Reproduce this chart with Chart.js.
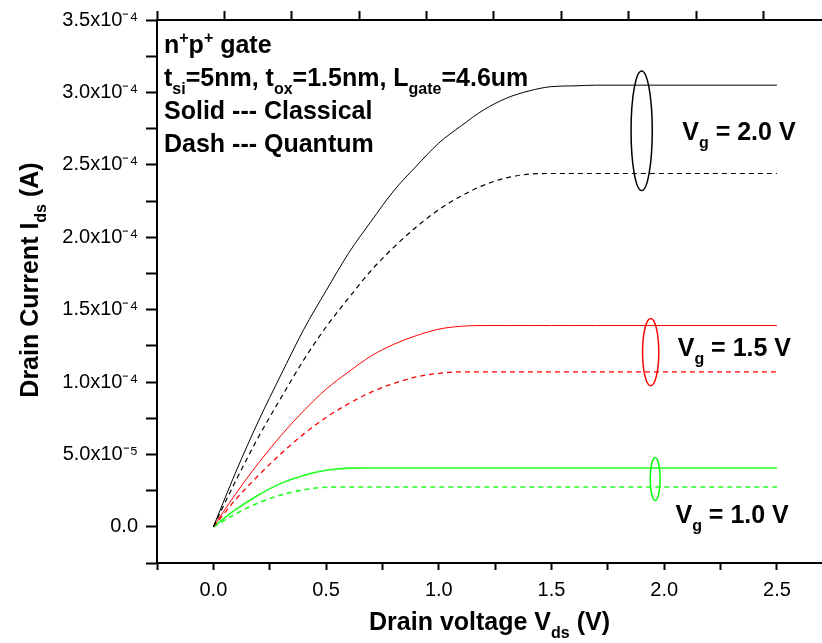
<!DOCTYPE html>
<html>
<head>
<meta charset="utf-8">
<script src="https://cdn.jsdelivr.net/npm/chart.js@4.4.0/dist/chart.umd.min.js"></script>
<style>
    html, body { margin: 0; padding: 0; background: #fff; }
    #wrap { width: 822px; height: 643px; }
</style>
</head>
<body>
<div id="wrap"><canvas id="ivChart" width="822" height="643"></canvas></div>
<script>
// Drain voltage sample points (V)
const vds = [0, 0.1, 0.2, 0.3, 0.4, 0.5, 0.6, 0.7, 0.8, 0.9, 1.0, 1.1, 1.2, 1.3, 1.4, 1.5, 1.6, 1.7, 2.5];

// Drain current, in units of 1e-4 A
const idsClassical20 = [0, 0.38, 0.73, 1.05, 1.36, 1.63, 1.89, 2.11, 2.32, 2.49, 2.65, 2.77, 2.88, 2.96, 3.01, 3.04, 3.045, 3.05, 3.05];
const idsQuantum20   = [0, 0.32, 0.62, 0.89, 1.15, 1.38, 1.58, 1.77, 1.93, 2.07, 2.19, 2.285, 2.36, 2.41, 2.435, 2.44, 2.44, 2.44, 2.44];
const idsClassical15 = [0, 0.23, 0.44, 0.63, 0.80, 0.95, 1.07, 1.18, 1.26, 1.32, 1.365, 1.385, 1.39, 1.39, 1.39, 1.39, 1.39, 1.39, 1.39];
const idsQuantum15   = [0, 0.19, 0.355, 0.505, 0.64, 0.755, 0.85, 0.93, 0.99, 1.035, 1.06, 1.07, 1.07, 1.07, 1.07, 1.07, 1.07, 1.07, 1.07];
const idsClassical10 = [0, 0.12, 0.22, 0.30, 0.355, 0.39, 0.405, 0.406, 0.406, 0.406, 0.406, 0.406, 0.406, 0.406, 0.406, 0.406, 0.406, 0.406, 0.406];
const idsQuantum10   = [0, 0.09, 0.165, 0.22, 0.255, 0.273, 0.275, 0.275, 0.275, 0.275, 0.275, 0.275, 0.275, 0.275, 0.275, 0.275, 0.275, 0.275, 0.275];

// Axis ticks
const xTickValues = [-0.25, 0, 0.25, 0.5, 0.75, 1.0, 1.25, 1.5, 1.75, 2.0, 2.25, 2.5];
const yTickValues = [-0.25, 0, 0.25, 0.5, 0.75, 1.0, 1.25, 1.5, 1.75, 2.0, 2.25, 2.5, 2.75, 3.0, 3.25, 3.5];
const topTickValues = [0, 1, 2, 3, 4, 5, 6, 7, 8, 9];

// Gate voltage groups: label, colour, ellipse centre / half sizes (data units), label anchor
const gateLabels = ['2.0', '1.5', '1.0'];
const gateColors = ['#000000', '#ff0000', '#00ff00'];
const ellipseCenters = [[1.90, 2.735], [1.94, 1.206], [1.96, 0.33]];
const ellipseRadii = [[0.047, 0.413], [0.036, 0.232], [0.022, 0.148]];
const labelAnchors = [[2.08, 2.67], [2.06, 1.18], [2.05, 0.025]];

const FONT = '"Liberation Sans", Arial, Helvetica, sans-serif';

function makeSet(label, values, color, dashed, width) {
    return {
        label: label,
        data: vds.map((v, i) => ({ x: v, y: values[i] })),
        borderColor: color,
        borderWidth: width,
        borderDash: dashed ? [5, 4] : [],
        pointRadius: 0,
        fill: false,
        cubicInterpolationMode: 'monotone'
    };
}

function yLabel(v) {
    if (v < 0 || Math.abs(v * 2 - Math.round(v * 2)) > 1e-9) return '';
    if (v === 0) return '0.0';
    if (Math.abs(v - 0.5) < 1e-9) return '5.0x10\u207B\u2075';
    return v.toFixed(1) + 'x10\u207B\u2074';
}

// text with sub/superscript pieces
function segFont(mode, size) {
    const s = mode ? Math.round(size * 0.62) : size;
    return 'bold ' + s + 'px ' + FONT;
}
function richWidth(ctx, segs, size) {
    let w = 0;
    segs.forEach(([t, m]) => { ctx.font = segFont(m, size); w += ctx.measureText(t).width; });
    return w;
}
function drawRich(ctx, x, y, segs, size, center) {
    let cx = center ? x - richWidth(ctx, segs, size) / 2 : x;
    ctx.textAlign = 'left';
    ctx.textBaseline = 'alphabetic';
    segs.forEach(([t, m]) => {
        ctx.font = segFont(m, size);
        const dy = m === 'sub' ? size * 0.32 : (m === 'sup' ? -size * 0.42 : 0);
        ctx.fillText(t, cx, y + dy);
        cx += ctx.measureText(t).width;
    });
}

const annotations = {
    id: 'annotations',
    afterDraw(chart) {
        const ctx = chart.ctx;
        const xs = chart.scales.x, ys = chart.scales.y;
        ctx.save();
        ctx.fillStyle = '#000';

        // info block
        const left = chart.chartArea.left + 7;
        drawRich(ctx, left, 53, [['n', ''], ['+', 'sup'], ['p', ''], ['+', 'sup'], [' gate', '']], 25);
        drawRich(ctx, left, 86, [['t', ''], ['si', 'sub'], ['=5nm, t', ''], ['ox', 'sub'], ['=1.5nm, L', ''], ['gate', 'sub'], ['=4.6um', '']], 25);
        drawRich(ctx, left, 119, [['Solid --- Classical', '']], 25);
        drawRich(ctx, left, 152, [['Dash --- Quantum', '']], 25);

        // ellipses and gate labels
        gateLabels.forEach((g, i) => {
            const cx = xs.getPixelForValue(ellipseCenters[i][0]);
            const cy = ys.getPixelForValue(ellipseCenters[i][1]);
            const rx = xs.getPixelForValue(ellipseCenters[i][0] + ellipseRadii[i][0]) - cx;
            const ry = cy - ys.getPixelForValue(ellipseCenters[i][1] + ellipseRadii[i][1]);
            ctx.beginPath();
            ctx.ellipse(cx, cy, rx, ry, 0, 0, Math.PI * 2);
            ctx.strokeStyle = gateColors[i];
            ctx.lineWidth = 1.5;
            ctx.stroke();

            const lx = xs.getPixelForValue(labelAnchors[i][0]);
            const ly = ys.getPixelForValue(labelAnchors[i][1]);
            drawRich(ctx, lx, ly, [['V', ''], ['g', 'sub'], [' = ' + g + ' V', '']], 25);
        });

        // axis titles
        const area = chart.chartArea;
        drawRich(ctx, (area.left + area.right) / 2, 630, [['Drain voltage V', ''], ['ds', 'sub'], [' (V)', '']], 25, true);
        ctx.translate(38, 280);
        ctx.rotate(-Math.PI / 2);
        drawRich(ctx, 0, 0, [['Drain Current I', ''], ['ds', 'sub'], [' (A)', '']], 25, true);
        ctx.restore();
    }
};

const tickFont = { family: FONT, size: 20 };

new Chart(document.getElementById('ivChart'), {
    type: 'line',
    data: {
        datasets: [
            makeSet('Classical 2.0', idsClassical20, '#000000', false, 1),
            makeSet('Quantum 2.0', idsQuantum20, '#000000', true, 1.2),
            makeSet('Classical 1.5', idsClassical15, '#ff0000', false, 1),
            makeSet('Quantum 1.5', idsQuantum15, '#ff0000', true, 1.3),
            makeSet('Classical 1.0', idsClassical10, '#22ff22', false, 1.6),
            makeSet('Quantum 1.0', idsQuantum10, '#22ff22', true, 1.6)
        ]
    },
    options: {
        responsive: false,
        devicePixelRatio: 1,
        animation: false,
        layout: { padding: 0 },
        plugins: {
            legend: { display: false },
            tooltip: { enabled: false }
        },
        scales: {
            x: {
                type: 'linear',
                position: 'bottom',
                min: -0.25,
                max: 2.7,
                afterBuildTicks: s => { s.ticks = xTickValues.map(v => ({ value: v })); },
                afterFit: s => { s.height = 80; },
                border: { display: true, color: '#000', width: 2 },
                grid: { drawOnChartArea: false, tickLength: 7, tickWidth: 2, tickColor: '#000' },
                ticks: {
                    color: '#000',
                    font: tickFont,
                    padding: 8,
                    maxRotation: 0,
                    autoSkip: false,
                    callback: v => (v >= 0 && Math.abs(v * 2 - Math.round(v * 2)) < 1e-9) ? v.toFixed(1) : ''
                }
            },
            xTop: {
                type: 'linear',
                position: 'top',
                min: 0,
                max: 9.87,
                afterBuildTicks: s => { s.ticks = topTickValues.map(v => ({ value: v })); },
                afterFit: s => { s.height = 19; },
                border: { display: true, color: '#000', width: 2 },
                grid: { drawOnChartArea: false, tickLength: 9, tickWidth: 2, tickColor: '#000' },
                ticks: { display: false }
            },
            y: {
                type: 'linear',
                min: -0.25,
                max: 3.5,
                afterBuildTicks: s => { s.ticks = yTickValues.map(v => ({ value: v })); },
                afterFit: s => { s.width = 157; },
                border: { display: true, color: '#000', width: 2 },
                grid: { drawOnChartArea: false, tickLength: 11, tickWidth: 2, tickColor: '#000' },
                ticks: {
                    color: '#000',
                    font: tickFont,
                    padding: 8,
                    autoSkip: false,
                    callback: v => yLabel(v)
                }
            }
        }
    },
    plugins: [annotations]
});
</script>
</body>
</html>
